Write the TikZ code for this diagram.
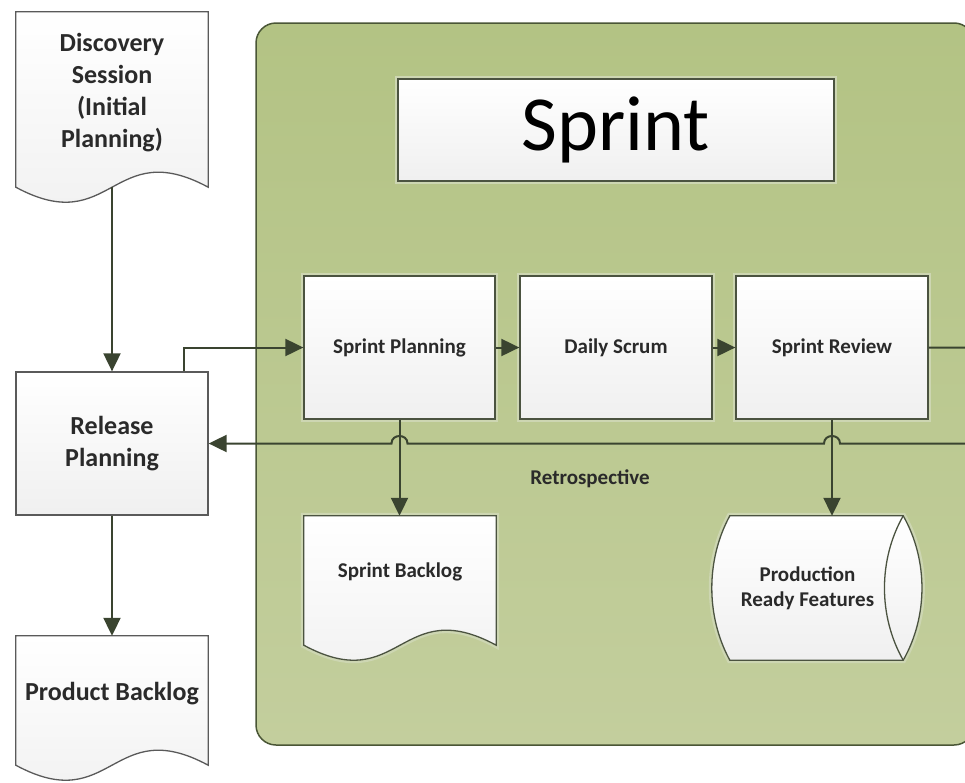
\documentclass[tikz,border=0pt]{standalone}
\usepackage{fontspec}
\setmainfont{Carlito}
\usetikzlibrary{arrows.meta,calc}
\pgfdeclarelayer{panel}
\pgfdeclarelayer{shapes}
\pgfsetlayers{panel,shapes,main}
\definecolor{panelA}{HTML}{B3C384}
\definecolor{panelB}{HTML}{C3CE9D}
\definecolor{panelline}{HTML}{4A5636}
\definecolor{boxline}{HTML}{4B5340}
\definecolor{grayline}{HTML}{5A5A5A}
\definecolor{connc}{HTML}{3A4430}
\definecolor{txt}{HTML}{2A2A2A}
\definecolor{halocol}{HTML}{CDD6B2}
\begin{document}
\begin{tikzpicture}[x=1pt,y=-1pt,
  conn/.style={draw=connc, line width=2pt},
  arrowed/.style={-{Triangle[length=18pt,width=17pt]}},
  shadefill/.style={top color=white, bottom color=black!6},
  procbox/.style={draw=boxline, line width=1.3pt, shadefill,
    preaction={draw=halocol, line width=6pt},
    minimum width=192pt, minimum height=143pt, inner sep=0pt,
    font=\fontsize{21}{25}\selectfont\bfseries, text=txt, align=center},
  leftbox/.style={draw=grayline, line width=1.3pt, shadefill,
    minimum width=192pt, minimum height=143pt, inner sep=0pt,
    font=\fontsize{26}{32}\selectfont\bfseries, text=txt, align=center},
  docnode/.style={inner sep=0pt, minimum width=192pt, align=center, text=txt},
  bigfont/.style={font=\fontsize{26}{32}\selectfont\bfseries},
  smallfont/.style={font=\fontsize{21}{25}\selectfont\bfseries},
  docfill/.style={line width=1.3pt, shadefill}
]
\clip (0,0) rectangle (965,782);

% panel
\begin{pgfonlayer}{panel}
\path[draw=panelline, line width=1.5pt, top color=panelA, bottom color=panelB,
  rounded corners=20pt] (256,23) rectangle (974,745);
\end{pgfonlayer}

% title
\node[draw=boxline, line width=1.3pt, shadefill,
  preaction={draw=halocol, line width=6pt},
  minimum width=436pt, minimum height=102pt, inner sep=0pt,
  font=\fontsize{78}{90}\selectfont, text=black] (title) at (616,130) {Sprint};

% left column
\node[docnode, bigfont, minimum height=161pt] (disc) at (112,92.5)
  {Discovery\\Session\\(Initial\\Planning)};
\node[leftbox] (relplan) at (112,443.5) {Release\\Planning};
\node[docnode, bigfont, minimum height=116pt] (pback) at (112,694) {Product Backlog};

% process boxes
\node[procbox, minimum width=191pt] (splan) at (399.5,347.5) {Sprint Planning};
\node[procbox] (dscrum) at (616,347.5) {Daily Scrum};
\node[procbox] (srev) at (832,347.5) {Sprint Review};

% outputs
\node[docnode, smallfont, minimum height=111pt] (sback) at (400,571.5) {Sprint Backlog};
\node[docnode, smallfont, minimum width=191pt, minimum height=144pt] (prod) at (807.5,588)
  {Production\\Ready Features};

\node[smallfont, text=txt] (retro) at (590,479) {Retrospective};

% document and storage outlines
\begin{pgfonlayer}{shapes}
\path[docfill, draw=grayline] (disc.north west) -- (disc.north east)
  -- ([yshift=-14pt]disc.south east)
  .. controls ([yshift=38pt]disc.south) and ([yshift=-66pt]disc.south) ..
  ([yshift=-14pt]disc.south west) -- cycle;
\path[docfill, draw=grayline] (pback.north west) -- (pback.north east)
  -- ([yshift=-13pt]pback.south east)
  .. controls ([yshift=39pt]pback.south) and ([yshift=-65pt]pback.south) ..
  ([yshift=-13pt]pback.south west) -- cycle;
\path[docfill, draw=boxline, preaction={draw=halocol, line width=6pt}]
  (sback.north west) -- (sback.north east)
  -- ([yshift=-18pt]sback.south east)
  .. controls ([yshift=34pt]sback.south) and ([yshift=-70pt]sback.south) ..
  ([yshift=-18pt]sback.south west) -- cycle;
\path[docfill, draw=boxline, preaction={draw=halocol, line width=6pt}]
  ([xshift=18pt]prod.north west) -- (prod.north east)
  .. controls ([xshift=25pt,yshift=-44pt]prod.north east) and ([xshift=25pt,yshift=44pt]prod.south east) ..
  (prod.south east) -- ([xshift=18pt]prod.south west)
  .. controls ([xshift=-6pt,yshift=44pt]prod.south west) and ([xshift=-6pt,yshift=-44pt]prod.north west) ..
  cycle;
\draw[boxline, line width=1.3pt] (prod.north east)
  .. controls ([xshift=-25pt,yshift=-44pt]prod.north east) and ([xshift=-25pt,yshift=44pt]prod.south east) ..
  (prod.south east);
\end{pgfonlayer}

% connectors
\draw[conn, arrowed] ([yshift=-14pt]disc.south) -- (relplan.north);
\draw[conn, arrowed] (relplan.south) -- (pback.north);
\draw[conn, arrowed] ([xshift=72pt]relplan.north) |- (splan.west);
\draw[conn, arrowed] (splan.east) -- (dscrum.west);
\draw[conn, arrowed] (dscrum.east) -- (srev.west);
\draw[conn, arrowed] (splan.south) -- (splan.south |- sback.north);
\draw[conn, arrowed] (srev.south) -- (srev.south |- prod.north);
\coordinate (ret1) at (990,347.5);
\coordinate (ret2) at (990,443.5);
\draw[conn, arrowed] (srev.east) -- (ret1) -- (ret2)
  -- ($(srev.south |- relplan.east)+(8,0)$)
  .. controls +(0,-10) and +(0,-10) .. ($(srev.south |- relplan.east)+(-8,0)$)
  -- ($(splan.south |- relplan.east)+(8,0)$)
  .. controls +(0,-10) and +(0,-10) .. ($(splan.south |- relplan.east)+(-8,0)$)
  -- (relplan.east);
\end{tikzpicture}
\end{document}
